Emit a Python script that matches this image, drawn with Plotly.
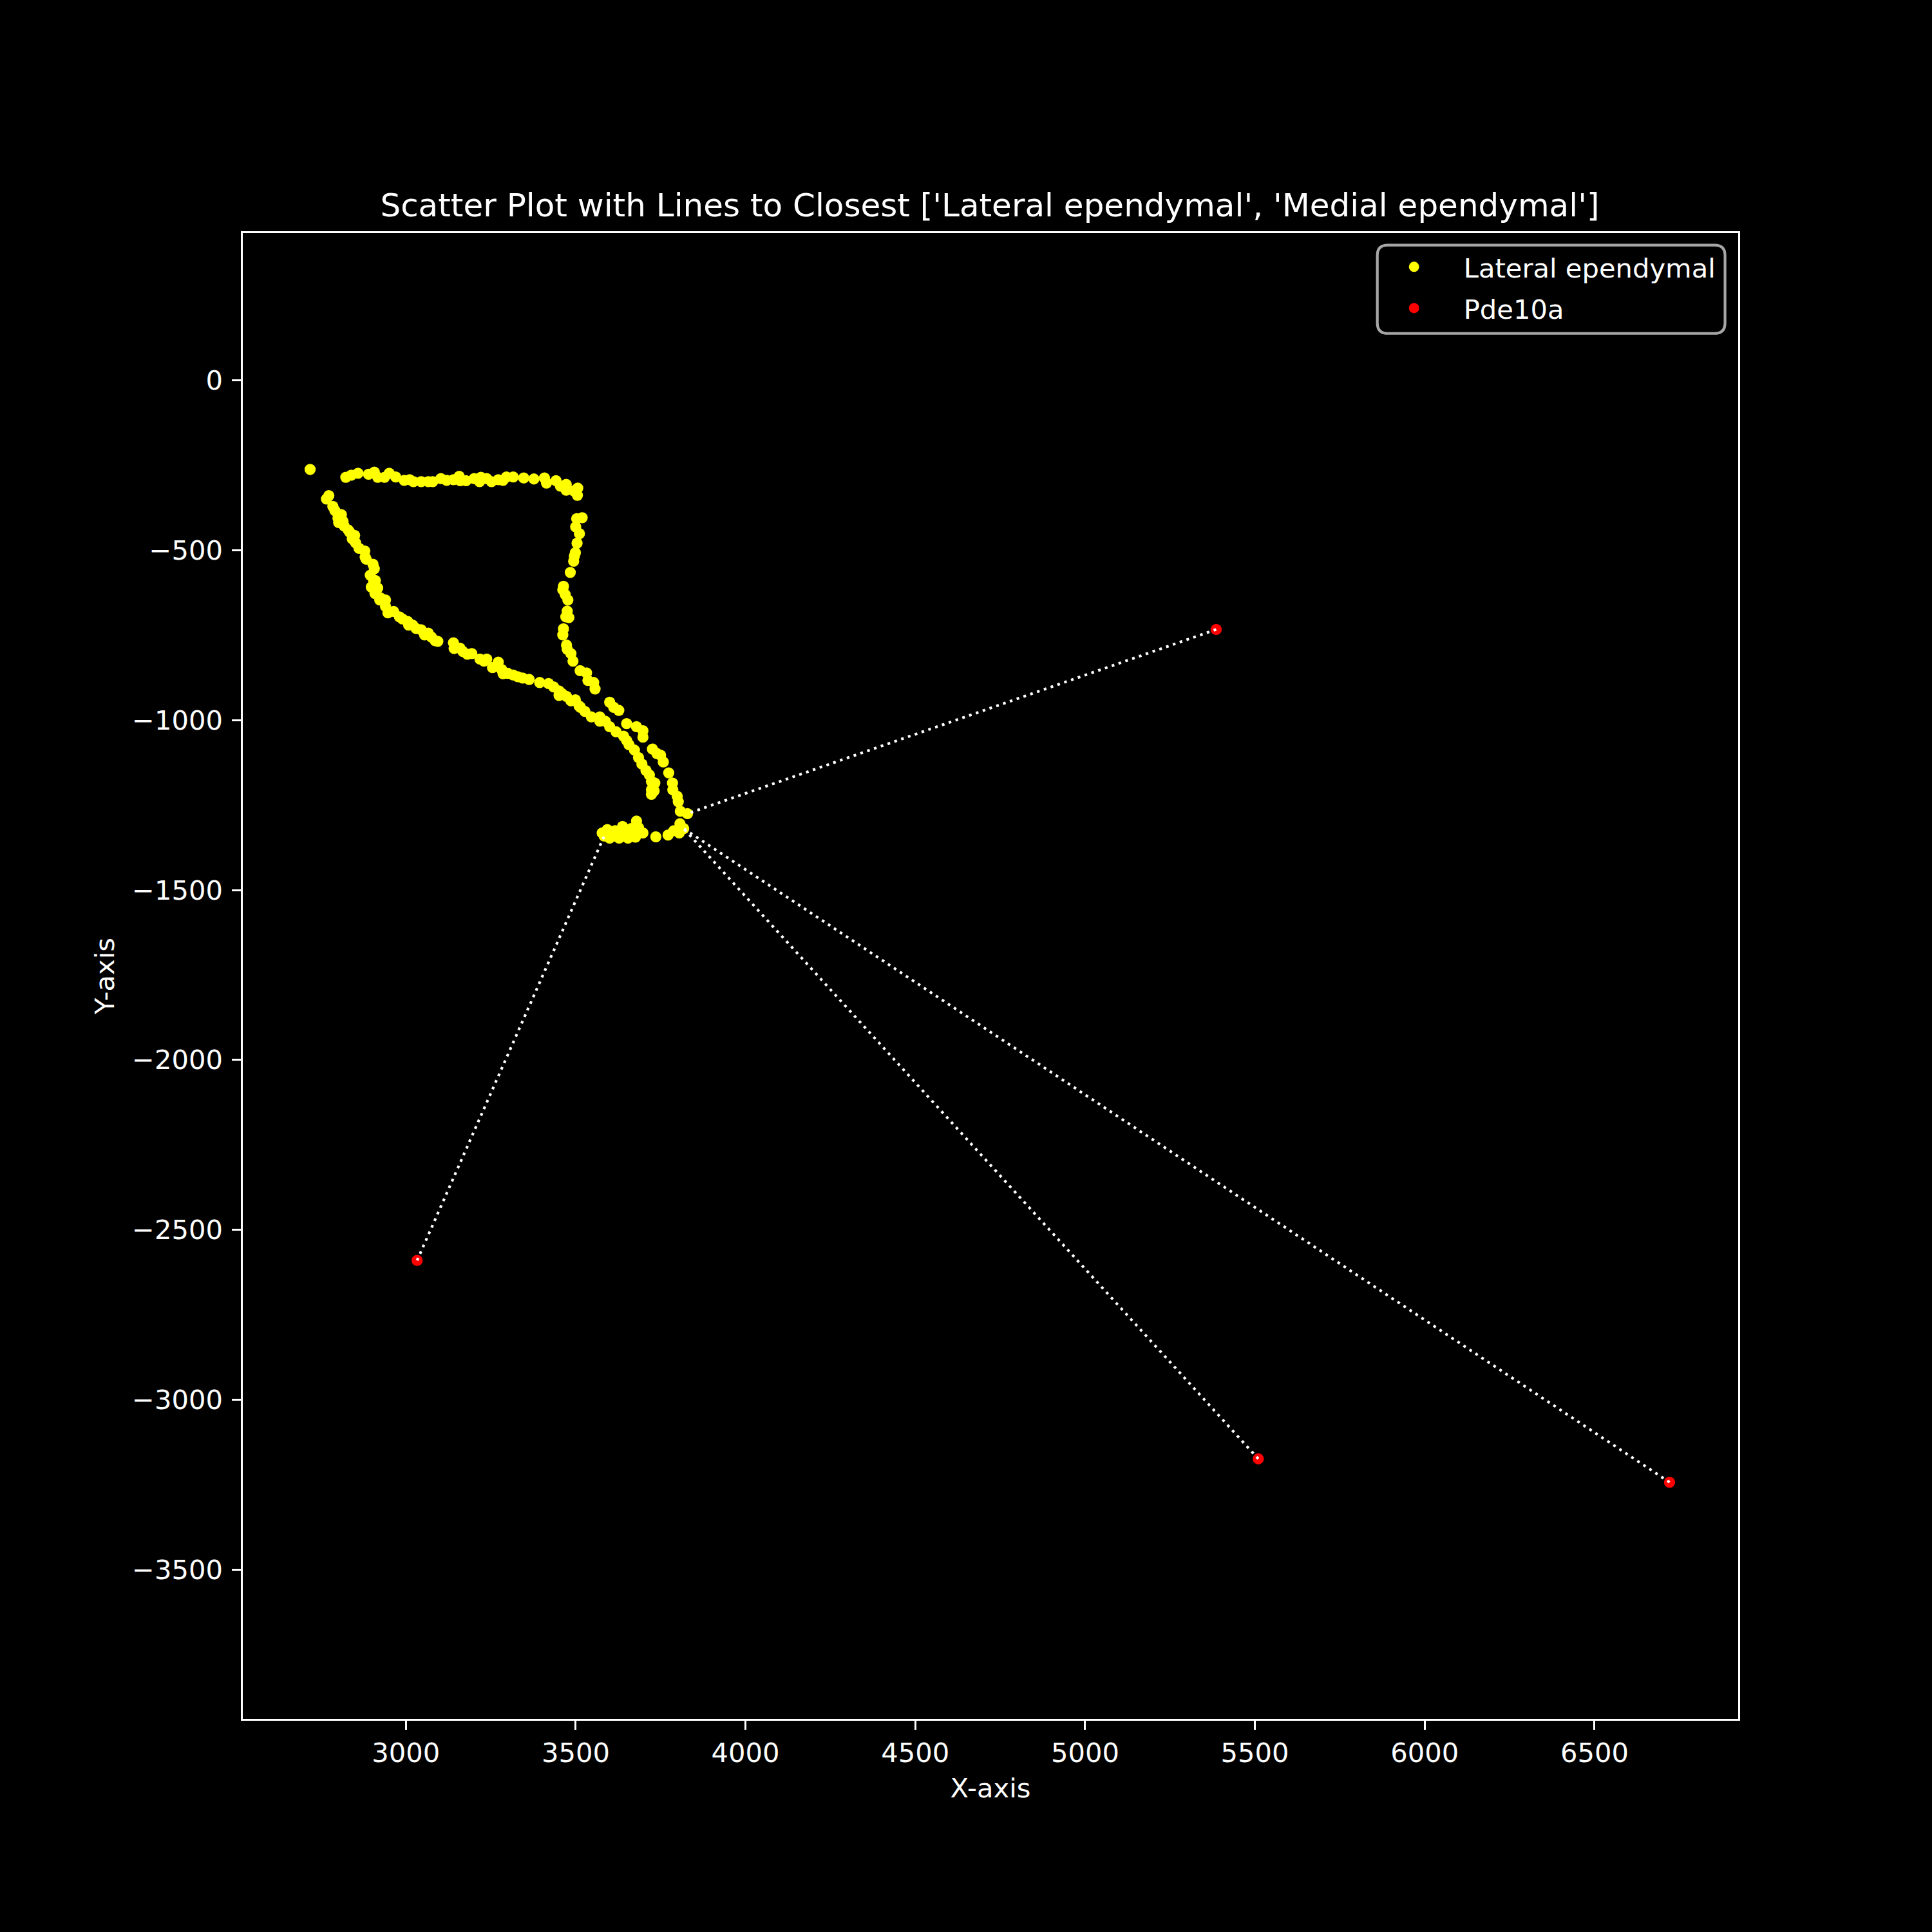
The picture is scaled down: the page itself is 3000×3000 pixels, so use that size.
import plotly.graph_objects as go

lateral_x = [2718,2823,2839,2859,2890,2907,2917,2937,2951,2970,2995,3011,3022,3045,3066,3079,3103,3120,3140,3157,3160,3177,3201,3217,3221,3238,3252,3272,3286,3296,3316,3347,3377,3408,3414,3442,3455,3472,3472,3506,3505,3494,
 3519,3503,3500,3511,3504,3499,3496,3494,3484,3464,3462,3469,3477,3475,3471,3480,3464,3462,3473,3475,3486,3492,3513,3532,3536,3553,3557,
 2773,2766,2785,2791,2800,2802,2815,2818,2835,2849,2842,2852,2862,2879,2883,2903,2907,2895,2910,2917,2909,2923,2940,2940,2947,2964,2981,3005,3008,3045,3055,3066,3094,3086,3140,3142,3159,3181,3194,3218,3238,3272,3255,3282,3286,3316,
 3344,3363,3394,3420,3435,3451,3451,3473,3486,3499,3514,3527,3546,3571,3571,3587,3600,3619,3641,3650,3657,3673,3685,3695,3707,3717,3723,3733,3723,3731,3723,
 3600,3612,3627,3650,3679,3698,3698,3726,3739,3750,3758,3774,3785,3786,3799,3802,3808,3829,
 3807,3818,3805,3789,3772,3736,3679,3698,3676,3654,3628,3600,3578,3593,3616,3638,3663,3679,3584,3612,3647,3669,3657,3631,3685,
 2810,2830,2880,2905,2898,2925,3020,3030,3075,3230,3300,3460,3510,2990,3168,3330]
lateral_y = [-262,-285,-279,-273,-276,-270,-285,-285,-273,-284,-294,-292,-298,-298,-298,-298,-289,-294,-292,-282,-295,-295,-289,-298,-285,-289,-298,-292,-294,-284,-284,-287,-290,-287,-302,-295,-311,-306,-323,-317,-338,-325,
 -404,-407,-431,-451,-479,-507,-517,-532,-565,-606,-616,-630,-646,-679,-696,-698,-731,-749,-779,-791,-804,-826,-854,-861,-883,-889,-908,
 -339,-349,-371,-383,-405,-418,-415,-428,-447,-456,-466,-478,-494,-502,-526,-541,-554,-573,-589,-611,-627,-646,-646,-665,-684,-680,-696,-709,-720,-734,-749,-744,-768,-766,-772,-789,-788,-806,-804,-820,-820,-829,-845,-851,-863,-867,
 -876,-880,-889,-892,-902,-914,-927,-930,-943,-940,-962,-974,-990,-990,-1003,-1003,-1019,-1034,-1047,-1060,-1072,-1088,-1110,-1129,-1148,-1161,-1180,-1185,-1205,-1208,-1218,
 -947,-962,-971,-1010,-1019,-1031,-1050,-1085,-1098,-1103,-1123,-1155,-1185,-1205,-1224,-1240,-1268,-1275,
 -1305,-1319,-1332,-1325,-1338,-1343,-1297,-1332,-1344,-1347,-1347,-1347,-1332,-1322,-1325,-1313,-1319,-1325,-1341,-1341,-1335,-1335,-1325,-1328,-1316,
 -395,-440,-520,-590,-608,-640,-720,-730,-755,-826,-862,-922,-958,-702,-798,-872]
pde10a_x = [5386, 3033, 5510, 6721]
pde10a_y = [-733, -2590, -3174, -3243]
closest_x = [3829, 3584, 3818, 3818]
closest_y = [-1275, -1341, -1319, -1319]
x_ticks = [3000,3500,4000,4500,5000,5500,6000,6500]
y_ticks = [0,-500,-1000,-1500,-2000,-2500,-3000,-3500]
x_range = [2519.7, 6923.0]
y_range = [-3939.3, 433.6]
title = "Scatter Plot with Lines to Closest ['Lateral ependymal', 'Medial ependymal']"

FONT = "DejaVu Sans"
MS = 17.3
fig = go.Figure()
fig.add_trace(go.Scatter(x=lateral_x, y=lateral_y, mode="markers", name="Lateral ependymal", legendgroup="g0",
                         marker=dict(color="#ffff00", size=MS, line=dict(width=0))))
fig.add_trace(go.Scatter(x=pde10a_x, y=pde10a_y, mode="markers", name="Pde10a", legendgroup="g1",
                         marker=dict(color="#ff0000", size=MS, line=dict(width=0))))
for x0, y0, x1, y1 in zip(pde10a_x, pde10a_y, closest_x, closest_y):
    fig.add_trace(go.Scatter(x=[x0, x1], y=[y0, y1], mode="lines", showlegend=False, hoverinfo="skip",
                             line=dict(color="#ffffff", width=4.17, dash="4.17px,7px")))

axis = dict(showgrid=False, zeroline=False, showline=True, mirror=True, linecolor="#ffffff", linewidth=3.3,
            ticks="outside", ticklen=13.5, tickwidth=3.3, tickcolor="#ffffff", automargin=False,
            tickfont=dict(family=FONT, size=41.67, color="#ffffff"))
L, R, T, B = 377.0, 2699.4, 362.3, 2668.7
W, H = R - L, B - T
fig.update_layout(
    width=3000, height=3000, paper_bgcolor="#000000", plot_bgcolor="#000000",
    margin=dict(l=L, r=3000-R, t=T, b=3000-B, pad=0),
    font=dict(family=FONT, size=41.67, color="#ffffff"),
    title=dict(text=title, x=0.5123, xanchor="center", xref="container", y=1-318/3000, yanchor="middle", yref="container",
               font=dict(family=FONT, size=50, color="#ffffff")),
    xaxis=dict(axis, range=x_range, tickvals=x_ticks, title=dict(text="X-axis", standoff=18, font=dict(family=FONT, size=41.67, color="#ffffff"))),
    yaxis=dict(axis, range=y_range, tickvals=y_ticks, ticklabelstandoff=6, title=dict(text="Y-axis", standoff=15, font=dict(family=FONT, size=41.67, color="#ffffff"))),
    legend=dict(x=(2119-L)/W, y=1-(381-T)/H, xref="paper", yref="paper", xanchor="left", yanchor="top",
                bgcolor="rgba(0,0,0,0)", borderwidth=0, itemwidth=144, tracegroupgap=7, itemsizing="trace",
                font=dict(family=FONT, size=41.67, color="#ffffff")),
    shapes=[dict(type="path", xref="paper", yref="paper", layer="above",
                 path="M {a},{b} L {c},{b} Q {r},{b} {r},{e} L {r},{f} Q {r},{t} {c},{t} L {a},{t} Q {l},{t} {l},{f} L {l},{e} Q {l},{b} {a},{b} Z".format(
                     l=(2139-L)/W, r=(2679-L)/W, a=(2155-L)/W, c=(2663-L)/W,
                     t=1-(381-T)/H, b=1-(518-T)/H, e=1-(502-T)/H, f=1-(397-T)/H),
                 line=dict(color="#a6a6a6", width=4.17), fillcolor="rgba(0,0,0,0.8)")],
)
fig.write_html("out.html", config=dict(displayModeBar=False),
               post_script="document.body.style.margin='0';document.body.style.background='#000';window.dispatchEvent(new Event('resize'));")
